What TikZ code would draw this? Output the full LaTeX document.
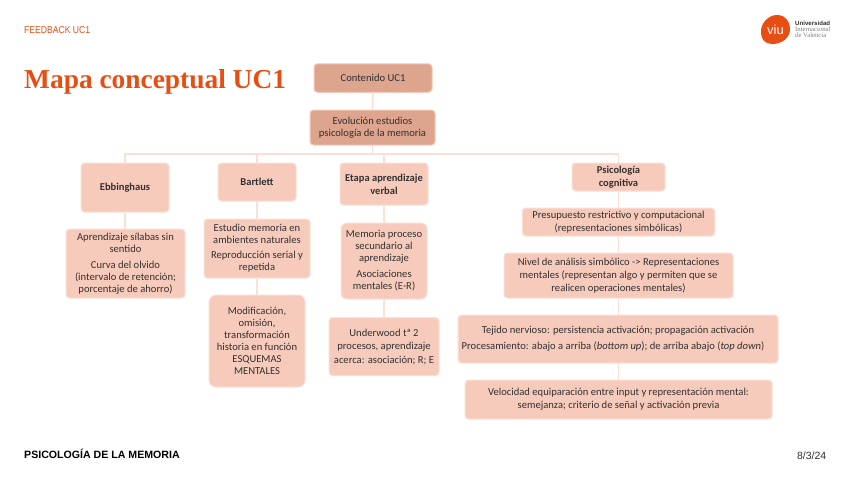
\documentclass[tikz,border=0pt]{standalone}
\usepackage{fontspec}
\setmainfont{Carlito}
\newfontfamily\arialf{Liberation Sans}
\newfontfamily\timesf{Liberation Serif}
\definecolor{viuorange}{HTML}{E84E14}
\definecolor{boxfill}{HTML}{F7CBBC}
\definecolor{boxedge}{HTML}{FBE0D6}
\definecolor{headfill}{HTML}{DDA48E}
\definecolor{txt}{HTML}{333030}
\tikzset{
  x=1pt,y=-1pt,
  box/.style={draw=boxedge,line width=1pt,fill=boxfill,rounded corners=3.5pt,align=center,text=txt,inner sep=0pt,font=\fontsize{10.6}{12}\selectfont},
  lead/.style={font=\fontsize{10.6}{#1}\selectfont},
  head/.style={box,fill=headfill,draw=boxfill},
  strong/.style={box,font=\fontsize{10.5}{13}\selectfont\bfseries},
  conn/.style={draw=boxedge,line width=1.6pt},
  wh/.style 2 args={minimum width=#1pt,minimum height=#2pt},
  plain/.style={inner sep=0pt,anchor=west}
}
\begin{document}
\begin{tikzpicture}
\useasboundingbox (0,0) rectangle (848,477);
\fill[white] (0,0) rectangle (848,477);
\node[head,wh={118}{28.5}] (cont) at (373,78) {Contenido UC1};
\node[head,wh={125}{35}] (evol) at (372.5,127.5) {Evolución estudios\\psicología de la memoria};
\node[strong,wh={88}{49}] (ebb) at (125,187.5) {Ebbinghaus};
\node[strong,wh={78}{38}] (bart) at (257,182) {Bartlett};
\node[strong,wh={88}{42}] (etapa) at (384,184) {Etapa aprendizaje\\verbal};
\node[strong,wh={93}{28}] (psi) at (618.5,177) {Psicología\\cognitiva};
\node[box,wh={119}{69}] (apr) at (125.5,263.5) {Aprendizaje sílabas sin\\sentido\\[4pt]Curva del olvido\\(intervalo de retención;\\porcentaje de ahorro)};
\node[box,wh={106}{59}] (est) at (257,248.5) {Estudio memoria en\\ambientes naturales\\[3pt]Reproducción serial y\\repetida};
\node[box,wh={96}{92},rounded corners=7pt] (modif) at (257,341) {Modificación,\\omisión,\\transformación\\historia en función\\ESQUEMAS\\MENTALES};
\node[box,wh={86}{76},rounded corners=6pt] (mem) at (384,261) {Memoria proceso\\secundario al\\aprendizaje\\[4pt]Asociaciones\\mentales (E-R)};
\node[box,lead=13.5,wh={110}{58}] (und) at (384,346.5) {Underwood tª 2\\procesos, aprendizaje\\acerca: asociación; R; E};
\node[box,lead=13,wh={192.5}{28}] (pres) at (618.5,222) {Presupuesto restrictivo y computacional\\(representaciones simbólicas)};
\node[box,lead=13,wh={229}{45}] (niv) at (618.5,275.5) {Nivel de análisis simbólico -> Representaciones\\mentales (representan algo y permiten que se\\realicen operaciones mentales)};
\node[box,wh={320}{48}] (tej) at (618,339) {Tejido nervioso: persistencia activación; propagación activación\\[4pt]Procesamiento: abajo a arriba (\textit{bottom up}); de arriba abajo (\textit{top down})\hspace*{10pt}};
\node[box,lead=13,wh={307}{39}] (vel) at (618.5,399.5) {Velocidad equiparación entre input y representación mental:\\semejanza; criterio de señal y activación previa};
\coordinate (bus) at (372.5,154);
\draw[conn] (cont.south) -- (evol.north);
\draw[conn] (evol.south) -- (bus);
\draw[conn] (ebb.north) |- (bus);
\draw[conn] (bart.north) |- (bus);
\draw[conn] (etapa.north) |- (bus);
\draw[conn] (psi.north) |- (bus);
\draw[conn] (ebb.south) -- (apr.north -| ebb.south);
\draw[conn] (bart.south) -- (est.north);
\draw[conn] (est.south) -- (modif.north);
\draw[conn] (etapa.south) -- (mem.north);
\draw[conn] (mem.south) -- (und.north);
\draw[conn] (psi.south) -- (pres.north);
\draw[conn] (pres.south) -- (niv.north);
\draw[conn] (niv.south) -- (tej.north -| niv.south);
\draw[conn] (tej.south -| vel.north) -- (vel.north);
\node[plain,text=viuorange,xscale=.86,font=\arialf\fontsize{10}{12}\selectfont] (fb) at (24,30.5) {FEEDBACK UC1};
\node[plain,text=viuorange,font=\timesf\bfseries\fontsize{27.4}{30}\selectfont] (title) at (24,81.5) {Mapa conceptual UC1};
\node[plain,text=black,font=\arialf\bfseries\fontsize{10.6}{12}\selectfont] (foot) at (24,454) {PSICOLOGÍA DE LA MEMORIA};
\node[inner sep=0pt,anchor=east,text=txt,font=\arialf\fontsize{10.5}{12}\selectfont] (date) at (826.5,455.5) {8/3/24};
\fill[viuorange] (761,33) .. controls (760,24) and (768,15) .. (777,15) .. controls (786,15) and (790,22) .. (790,29) .. controls (790,38) and (782,44) .. (772,44) .. controls (765,44) and (761,39) .. (761,33) -- cycle;
\node[inner sep=0pt,text=white,font=\arialf\fontsize{13}{14}\selectfont] (viu) at (775.5,29.5) {viu};
\node[plain,text=txt,font=\arialf\bfseries\fontsize{6.1}{6}\selectfont] (u1) at (795,23.5) {Universidad};
\node[plain,text=gray,font=\timesf\fontsize{6.7}{7}\selectfont] (u2) at (795,29.5) {Internacional};
\node[plain,text=gray,font=\timesf\fontsize{6.7}{7}\selectfont] (u3) at (795,35.5) {de Valencia};
\end{tikzpicture}
\end{document}
